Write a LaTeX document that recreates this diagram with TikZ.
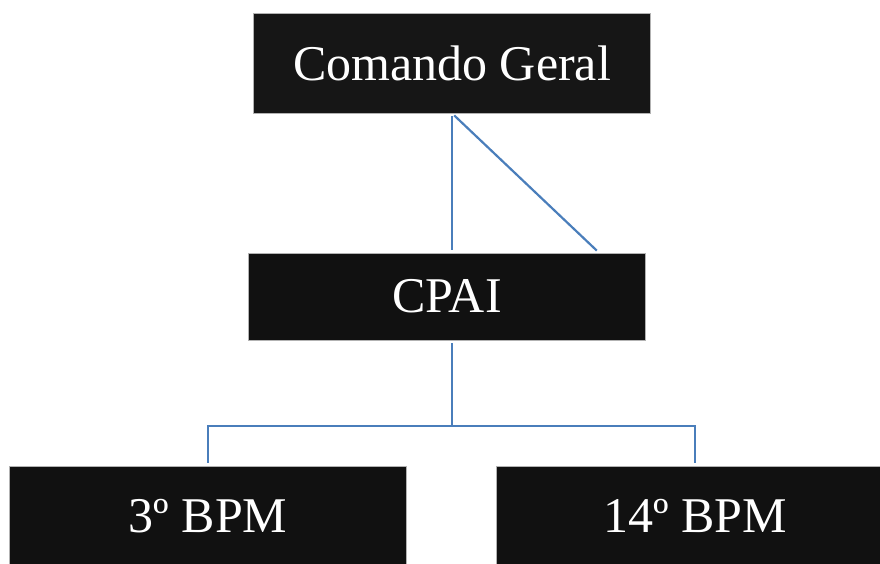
\documentclass[tikz,border=0pt]{standalone}
\usepackage{fontspec}
\setmainfont{Liberation Serif}
\usetikzlibrary{calc}
\definecolor{boxc}{HTML}{111111}
\definecolor{boxtop}{HTML}{161616}
\definecolor{linec}{HTML}{4A7EBB}
\tikzset{
  orgbox/.style={fill=boxc, draw=gray!60, line width=0.6pt, text=white,
    font=\fontsize{50}{60}\selectfont, inner sep=0pt, minimum width=397pt},
  conn/.style={draw=linec, line width=2.2pt, shorten <=3pt, shorten >=3pt}
}
\begin{document}
\begin{tikzpicture}[x=1pt,y=-1pt]
\useasboundingbox (0,0) rectangle (880,563);
\clip (0,0) rectangle (880,563);
\fill[white] (0,0) rectangle (880,563);
\node[orgbox, fill=boxtop, minimum height=100pt] (cg) at (452,63) {Comando Geral};
\node[orgbox, minimum height=87pt] (cpai) at (447,296.5) {CPAI};
\node[orgbox, minimum height=100pt] (b3) at (208,516) {3º BPM};
\node[orgbox, minimum height=100pt] (b14) at (695,516) {14º BPM};
\draw[conn] (cg.south) -- (cg.south |- cpai.north);
\draw[conn] (cg.south) -- ($(cpai.north)+(152,0)$);
\draw[conn, shorten >=0pt] (cg.south |- cpai.south) -- ++(0,86) coordinate (j);
\draw[conn, shorten <=0pt] (j) -| (b3.north);
\draw[conn, shorten <=0pt] (j) -| (b14.north);
\end{tikzpicture}
\end{document}
